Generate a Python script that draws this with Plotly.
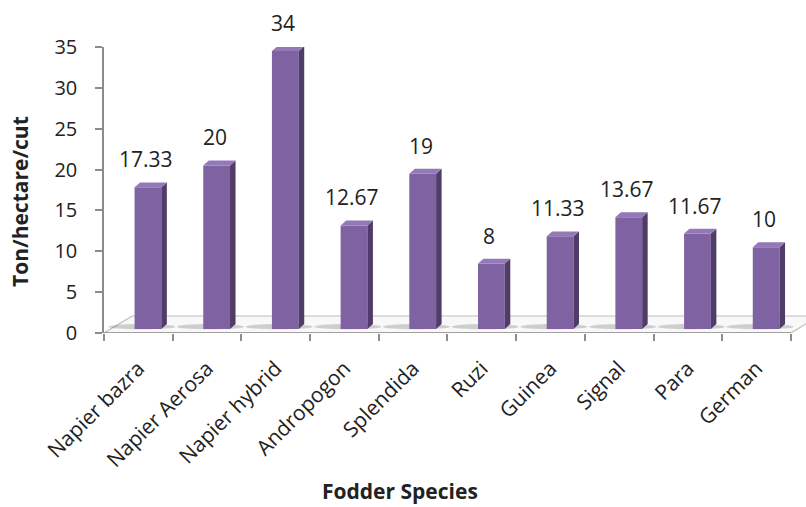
import plotly.graph_objects as go

# Fodder yield per cut for each species
categories = ["Napier bazra", "Napier Aerosa", "Napier hybrid", "Andropogon", "Splendida",
              "Ruzi", "Guinea", "Signal", "Para", "German"]
values = [17.33, 20, 34, 12.67, 19, 8, 11.33, 13.67, 11.67, 10]
y_ticks = [0, 5, 10, 15, 20, 25, 30, 35]

# pseudo-3D geometry (in axis units)
BAR_SHIFT = 0.14   # bars sit a little behind the front plane, so shifted right
BAR_W = 0.39
BAR_BASE = 0.5
SIDE_DX = 0.08
SIDE_DY = 0.6
FLOOR_DX = 0.41
FLOOR_DY = 2.08

FRONT = "#7F62A1"
SIDE = "#503C68"
TOP = "#9479B8"
AXIS = "#8C8C8C"
FONT = "Open Sans"

n = len(categories)
xc = [i + BAR_SHIFT for i in range(n)]

fig = go.Figure()

# front faces of the bars
fig.add_trace(go.Bar(
    x=xc, y=values, base=[BAR_BASE] * n, width=BAR_W,
    marker=dict(color=FRONT, line=dict(width=0)),
    hoverinfo="skip", showlegend=False,
))

# side and top faces
side_x, side_y, top_x, top_y = [], [], [], []
for x, v in zip(xc, values):
    xl, xr = x - BAR_W / 2, x + BAR_W / 2
    yt = v + BAR_BASE
    side_x += [xr, xr + SIDE_DX, xr + SIDE_DX, xr, xr, None]
    side_y += [BAR_BASE, BAR_BASE + SIDE_DY, yt + SIDE_DY, yt, BAR_BASE, None]
    top_x += [xl, xr, xr + SIDE_DX, xl + SIDE_DX, xl, None]
    top_y += [yt, yt, yt + SIDE_DY, yt + SIDE_DY, yt, None]

fig.add_trace(go.Scatter(x=side_x, y=side_y, mode="lines", fill="toself",
                         fillcolor=SIDE, line=dict(width=0, color=SIDE),
                         hoverinfo="skip", showlegend=False))
fig.add_trace(go.Scatter(x=top_x, y=top_y, mode="lines", fill="toself",
                         fillcolor=TOP, line=dict(width=0, color=TOP),
                         hoverinfo="skip", showlegend=False))

# value labels (anchored on the front top edge, lifted above the top face)
for x, v in zip(xc, values):
    fig.add_annotation(x=x - 0.03, y=v + BAR_BASE, text=f"{v:g}",
                       showarrow=False, yanchor="bottom", yshift=12,
                       font=dict(family=FONT, size=21, color="#222222"))

# floor of the 3D plot
x0, x1 = -0.5, n - 0.5
floor_path = (f"M {x0},0 L {x1},0 L {x1 + FLOOR_DX},{FLOOR_DY} "
              f"L {x0 + FLOOR_DX},{FLOOR_DY} Z")
shapes = [dict(type="path", path=floor_path, xref="x", yref="y",
               fillcolor="#F8F8F8", line=dict(color="#BDBDBD", width=1.2),
               layer="below")]
# soft shadows at each bar base, stretched towards the left
for x in xc:
    shapes.append(dict(type="circle", xref="x", yref="y",
                       x0=x - 0.58, x1=x + 0.4, y0=0.45, y1=1.1,
                       fillcolor="rgba(80,80,80,0.25)", line=dict(width=0),
                       layer="below"))
# x axis line
shapes.append(dict(type="line", xref="x", yref="y", x0=x0, x1=x1, y0=0, y1=0,
                   line=dict(color=AXIS, width=1.5), layer="above"))

fig.update_layout(
    width=806, height=507,
    margin=dict(l=104, r=0, t=47, b=174),
    paper_bgcolor="white", plot_bgcolor="white",
    font=dict(family=FONT, color="#222222"),
    shapes=shapes,
    xaxis=dict(
        range=[-0.5, n - 0.5 + 0.22],
        tickmode="array", tickvals=list(range(n)), ticktext=categories,
        tickangle=-45, ticks="", showline=False, showgrid=False, zeroline=False,
        tickfont=dict(family=FONT, size=21, color="#222222"),
        ticklabelstandoff=18,
        minor=dict(tickmode="array", tickvals=[i - 0.5 for i in range(n + 1)],
                   ticks="outside", ticklen=7, tickcolor=AXIS, tickwidth=1.5,
                   showgrid=False),
    ),
    yaxis=dict(
        range=[0, 35], tickmode="array", tickvals=y_ticks,
        ticks="outside", ticklen=7, tickcolor=AXIS, tickwidth=1.5,
        showline=True, linecolor=AXIS, linewidth=1.5,
        showgrid=False, zeroline=False,
        tickfont=dict(family=FONT, size=20, color="#222222"),
        ticklabelstandoff=14,
    ),
    annotations=list(fig.layout.annotations) + [
        dict(text="<b>Ton/hectare/cut</b>", xref="paper", yref="paper",
             x=(20 - 104) / 702, y=(333 - 202) / 286, textangle=-90,
             showarrow=False, xanchor="center", yanchor="middle",
             font=dict(family=FONT, size=21, color="#222222")),
        dict(text="<b>Fodder Species</b>", xref="paper", yref="paper",
             x=(400 - 104) / 702, y=(333 - 491) / 286,
             showarrow=False, xanchor="center", yanchor="middle",
             font=dict(family=FONT, size=21, color="#222222")),
    ],
)

fig.write_html("out.html")
